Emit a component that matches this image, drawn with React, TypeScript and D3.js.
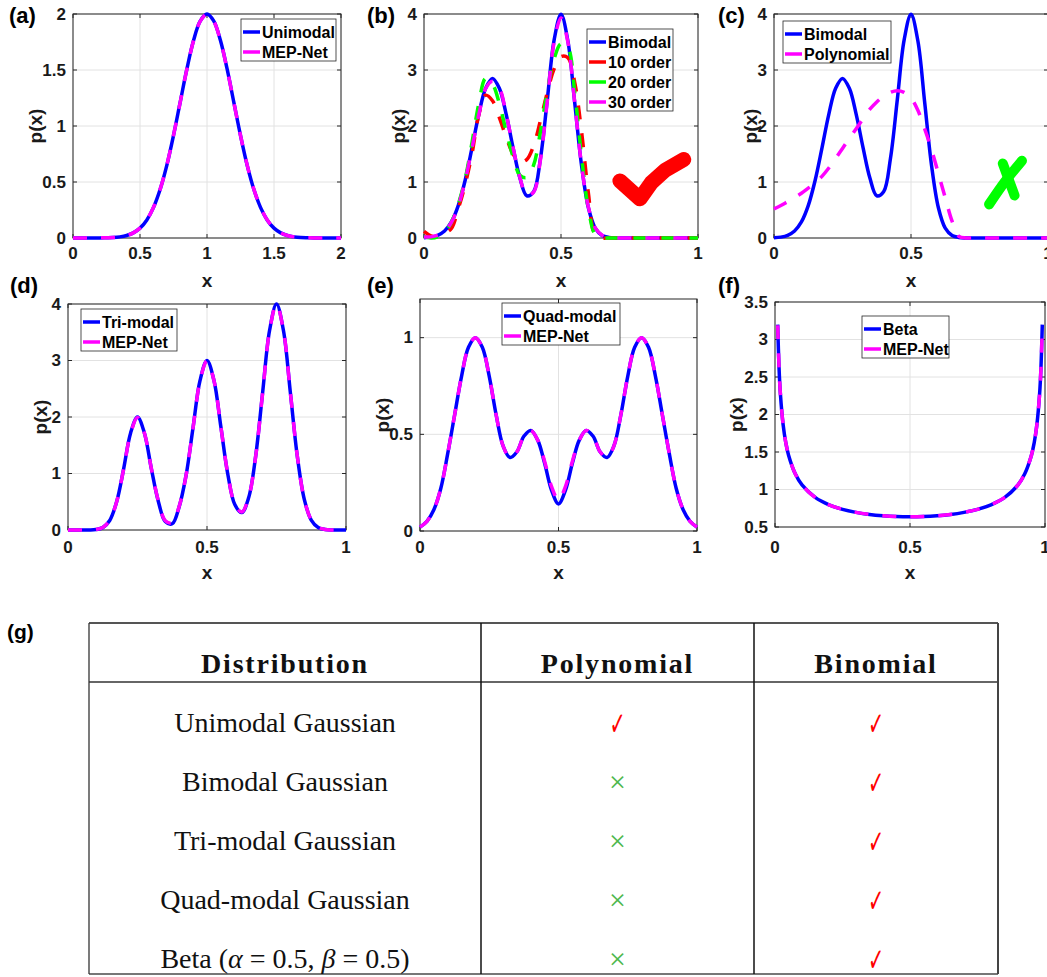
import React from 'react';
import * as d3 from 'd3';

// ---------------- DATA ----------------
const X_A = [0,0.05,0.1,0.15,0.2,0.25,0.3,0.35,0.4,0.45,0.5,0.55,0.6,0.65,0.7,0.75,0.8,0.85,0.9,0.95,1,1.05,1.1,1.15,1.2,1.25,1.3,1.35,1.4,1.45,1.5,1.55,1.6,1.65,1.7,1.75,1.8,1.85,1.9,1.95,2];
const UNIMODAL_A = [0,0,0,0,0.001,0.002,0.004,0.010,0.022,0.046,0.088,0.159,0.271,0.433,0.649,0.916,1.213,1.510,1.765,1.938,2.000,1.938,1.765,1.510,1.213,0.916,0.649,0.433,0.271,0.159,0.088,0.046,0.022,0.010,0.004,0.002,0.001,0,0,0,0];
const MEP_A = [0,0,0,0,0.001,0.002,0.004,0.010,0.022,0.046,0.088,0.160,0.272,0.434,0.650,0.916,1.212,1.508,1.763,1.936,1.998,1.936,1.763,1.508,1.212,0.916,0.650,0.434,0.272,0.160,0.088,0.046,0.022,0.010,0.004,0.002,0.001,0,0,0,0];

const X_B = [0,0.025,0.05,0.075,0.1,0.125,0.15,0.175,0.2,0.225,0.25,0.275,0.3,0.325,0.35,0.375,0.4,0.425,0.45,0.475,0.5,0.525,0.55,0.575,0.6,0.625,0.65,0.675,0.7,0.725,0.75,0.775,0.8,0.825,0.85,0.875,0.9,0.925,0.95,0.975,1];
const BIMODAL = [0.005,0.016,0.048,0.125,0.287,0.579,1.027,1.605,2.208,2.674,2.850,2.674,2.209,1.614,1.071,0.754,0.827,1.421,2.468,3.537,3.995,3.522,2.420,1.296,0.540,0.175,0.044,0.009,0.001,0,0,0,0,0,0,0,0,0,0,0,0];
const ORDER10 = [0.12,0.04,0.02,0.08,0.17,0.52,0.95,1.50,2.20,2.55,2.45,2.15,1.80,1.50,1.36,1.40,1.65,2.10,2.60,3.02,3.24,3.22,2.78,1.90,0.80,0.05,0,0,0,0,0,0,0,0,0,0,0,0,0,0,0];
const ORDER20 = [0.03,0,0.02,0.10,0.28,0.60,1.05,1.70,2.40,2.85,2.75,2.40,1.90,1.45,1.12,1.08,1.30,1.90,2.62,3.20,3.47,3.40,2.60,1.45,0.52,0.06,0,0,0,0,0,0,0,0,0,0,0,0,0,0,0];
const ORDER30 = [0.02,0.02,0.05,0.12,0.28,0.57,1.02,1.60,2.20,2.67,2.80,2.68,2.21,1.62,1.08,0.76,0.82,1.40,2.45,3.50,3.93,3.50,2.42,1.30,0.55,0.18,0.05,0.01,0,0,0,0,0,0,0,0,0,0,0,0,0];
const POLYNOMIAL_C = [0.52,0.58,0.65,0.72,0.80,0.89,0.98,1.10,1.25,1.42,1.60,1.78,1.95,2.13,2.30,2.43,2.53,2.60,2.63,2.60,2.50,2.28,1.95,1.58,1.15,0.72,0.30,0.03,0,0,0,0,0,0,0,0,0,0,0,0,0];

const TRIMODAL = [0,0,0,0.001,0.008,0.042,0.169,0.499,1.079,1.714,2.000,1.714,1.080,0.506,0.150,0.110,0.414,0.975,1.820,2.648,3.000,2.648,1.821,0.983,0.450,0.308,0.574,1.305,2.427,3.530,4.000,3.530,2.426,1.299,0.541,0.176,0.044,0.009,0.001,0,0];
const MEP_D = [0,0,0,0.001,0.010,0.045,0.172,0.500,1.075,1.705,1.990,1.712,1.085,0.515,0.165,0.125,0.420,0.975,1.815,2.640,2.995,2.645,1.822,0.990,0.460,0.318,0.580,1.300,2.420,3.520,3.995,3.528,2.428,1.302,0.545,0.178,0.046,0.010,0.001,0,0];

const QUADMODAL = [0.02,0.05,0.11,0.22,0.40,0.60,0.80,0.95,1.00,0.95,0.80,0.60,0.44,0.38,0.41,0.49,0.52,0.47,0.35,0.21,0.14,0.21,0.35,0.47,0.52,0.49,0.41,0.38,0.44,0.60,0.80,0.95,1.00,0.95,0.80,0.60,0.40,0.22,0.11,0.05,0.02];
const MEP_E = [0.02,0.05,0.11,0.22,0.40,0.60,0.80,0.95,1.00,0.95,0.80,0.60,0.44,0.38,0.41,0.49,0.52,0.47,0.36,0.23,0.16,0.23,0.36,0.47,0.52,0.49,0.41,0.38,0.44,0.60,0.80,0.95,1.00,0.95,0.80,0.60,0.40,0.22,0.11,0.05,0.02];

const X_F = [0.01,0.015,0.02,0.03,0.04,0.05,0.075,0.1,0.15,0.2,0.25,0.3,0.35,0.4,0.45,0.5,0.55,0.6,0.65,0.7,0.75,0.8,0.85,0.9,0.925,0.95,0.96,0.97,0.98,0.985,0.99];
const BETA_F = [3.199,2.619,2.274,1.866,1.624,1.461,1.209,1.061,0.891,0.796,0.735,0.695,0.667,0.650,0.640,0.637,0.640,0.650,0.667,0.695,0.735,0.796,0.891,1.061,1.209,1.461,1.624,1.866,2.274,2.619,3.199];
const MEP_F = [3.190,2.615,2.272,1.866,1.624,1.461,1.209,1.061,0.891,0.796,0.735,0.695,0.667,0.650,0.640,0.637,0.640,0.650,0.667,0.695,0.735,0.796,0.891,1.061,1.209,1.461,1.624,1.866,2.272,2.615,3.190];

// annotation marks (data space)
const CHECK_X = [0.715, 0.788, 0.83, 0.88, 0.948];
const CHECK_Y = [1.02, 0.70, 0.99, 1.21, 1.40];
const CROSS1_X = [0.785, 0.842, 0.905];
const CROSS1_Y = [0.60, 1.00, 1.38];
const CROSS2_X = [0.835, 0.878];
const CROSS2_Y = [1.33, 0.76];

// ticks
const TICKS_0_2 = [0, 0.5, 1, 1.5, 2];
const TICKS_0_1 = [0, 0.5, 1];
const TICKS_0_4 = [0, 1, 2, 3, 4];
const TICKS_E_Y = [0, 0.5, 1];
const TICKS_F_Y = [0.5, 1, 1.5, 2, 2.5, 3, 3.5];

// table
const TABLE_HEADERS = ['Distribution', 'Polynomial', 'Binomial'];
const DISTRIBUTIONS = ['Unimodal Gaussian', 'Bimodal Gaussian', 'Tri-modal Gaussian', 'Quad-modal Gaussian', 'BETA'];
const POLY_OK = [true, false, false, false, false];
const BINOM_OK = [true, true, true, true, true];

// ---------------- STYLE ----------------
const SANS = "'Liberation Sans', Arial, Helvetica, sans-serif";
const SERIF = "'Liberation Serif', 'Times New Roman', serif";
const BLUE = '#0000ff';
const MAGENTA = '#ff00ff';
const RED = '#ff0000';
const GREEN = '#00ff00';
const LW = 3.5;
const DASH = '14,14';

type Series = { x: number[]; y: number[]; color: string; dashed: boolean; name: string };

const PANELS = [
  {
    id: 'a', label: '(a)', labelX: 9, labelY: 15,
    x0: 73, x1: 341, y0: 238, y1: 14, xDom: [0, 2], yDom: [0, 2],
    xTicks: TICKS_0_2, yTicks: TICKS_0_2, tickY: 253, xlabY: 280, ylabX: 35,
    series: [
      { x: X_A, y: UNIMODAL_A, color: BLUE, dashed: false, name: 'Unimodal' },
      { x: X_A, y: MEP_A, color: MAGENTA, dashed: true, name: 'MEP-Net' },
    ],
    legend: { x: 241, y: 19, w: 95 },
  },
  {
    id: 'b', label: '(b)', labelX: 367, labelY: 15,
    x0: 424, x1: 698, y0: 238, y1: 14, xDom: [0, 1], yDom: [0, 4],
    xTicks: TICKS_0_1, yTicks: TICKS_0_4, tickY: 253, xlabY: 280, ylabX: 398,
    series: [
      { x: X_B, y: BIMODAL, color: BLUE, dashed: false, name: 'Bimodal' },
      { x: X_B, y: ORDER10, color: RED, dashed: true, name: '10 order' },
      { x: X_B, y: ORDER20, color: GREEN, dashed: true, name: '20 order' },
      { x: X_B, y: ORDER30, color: MAGENTA, dashed: true, name: '30 order' },
    ],
    legend: { x: 587, y: 29, w: 86 },
    check: true,
  },
  {
    id: 'c', label: '(c)', labelX: 718, labelY: 15,
    x0: 774, x1: 1048, y0: 238, y1: 14, xDom: [0, 1], yDom: [0, 4],
    xTicks: TICKS_0_1, yTicks: TICKS_0_4, tickY: 253, xlabY: 280, ylabX: 750,
    series: [
      { x: X_B, y: BIMODAL, color: BLUE, dashed: false, name: 'Bimodal' },
      { x: X_B, y: POLYNOMIAL_C, color: MAGENTA, dashed: true, name: 'Polynomial' },
    ],
    legend: { x: 783, y: 21, w: 108 },
    cross: true,
  },
  {
    id: 'd', label: '(d)', labelX: 10, labelY: 285,
    x0: 68, x1: 346, y0: 530, y1: 304, xDom: [0, 1], yDom: [0, 4],
    xTicks: TICKS_0_1, yTicks: TICKS_0_4, tickY: 547, xlabY: 572, ylabX: 40,
    series: [
      { x: X_B, y: TRIMODAL, color: BLUE, dashed: false, name: 'Tri-modal' },
      { x: X_B, y: MEP_D, color: MAGENTA, dashed: true, name: 'MEP-Net' },
    ],
    legend: { x: 81, y: 309, w: 96 },
  },
  {
    id: 'e', label: '(e)', labelX: 367, labelY: 285,
    x0: 420, x1: 697, y0: 531, y1: 299, xDom: [0, 1], yDom: [0, 1.2],
    xTicks: TICKS_0_1, yTicks: TICKS_E_Y, tickY: 547, xlabY: 572, ylabX: 382,
    series: [
      { x: X_B, y: QUADMODAL, color: BLUE, dashed: false, name: 'Quad-modal' },
      { x: X_B, y: MEP_E, color: MAGENTA, dashed: true, name: 'MEP-Net' },
    ],
    legend: { x: 502, y: 303, w: 118 },
  },
  {
    id: 'f', label: '(f)', labelX: 718, labelY: 285,
    x0: 775, x1: 1045, y0: 527, y1: 302, xDom: [0, 1], yDom: [0.5, 3.5],
    xTicks: TICKS_0_1, yTicks: TICKS_F_Y, tickY: 547, xlabY: 572, ylabX: 736,
    series: [
      { x: X_F, y: BETA_F, color: BLUE, dashed: false, name: 'Beta' },
      { x: X_F, y: MEP_F, color: MAGENTA, dashed: true, name: 'MEP-Net' },
    ],
    legend: { x: 862, y: 316, w: 87 },
  },
];

function Panel({ cfg }: { cfg: any }) {
  const xs = d3.scaleLinear().domain(cfg.xDom).range([cfg.x0, cfg.x1]);
  const ys = d3.scaleLinear().domain(cfg.yDom).range([cfg.y0, cfg.y1]);
  const mk = (X: number[], Y: number[], curve: any = d3.curveCatmullRom.alpha(0.5)) =>
    d3.line<number>().x((_, i) => xs(X[i])).y((d) => ys(d)).curve(curve)(Y) || '';
  const fmt = (v: number) => String(v);
  const tl = 4;
  const midY = (cfg.y0 + cfg.y1) / 2;
  const midX = (cfg.x0 + cfg.x1) / 2;
  const series: Series[] = cfg.series;
  const lg = cfg.legend;
  return (
    <g>
      {/* grid */}
      {cfg.xTicks.map((t: number) => (
        <line key={'gx' + t} x1={xs(t)} x2={xs(t)} y1={cfg.y0} y2={cfg.y1} stroke="#e2e2e2" strokeWidth={1} />
      ))}
      {cfg.yTicks.map((t: number) => (
        <line key={'gy' + t} x1={cfg.x0} x2={cfg.x1} y1={ys(t)} y2={ys(t)} stroke="#e2e2e2" strokeWidth={1} />
      ))}
      {/* box */}
      <rect x={cfg.x0} y={cfg.y1} width={cfg.x1 - cfg.x0} height={cfg.y0 - cfg.y1} fill="none" stroke="#262626" strokeWidth={1} />
      {cfg.xTicks.map((t: number) => (
        <g key={'tx' + t}>
          <line x1={xs(t)} x2={xs(t)} y1={cfg.y0} y2={cfg.y0 - tl} stroke="#262626" />
          <line x1={xs(t)} x2={xs(t)} y1={cfg.y1} y2={cfg.y1 + tl} stroke="#262626" />
          <text x={xs(t)} y={cfg.tickY} textAnchor="middle" dominantBaseline="central" fontFamily={SANS} fontWeight="bold" fontSize={17} fill="#1a1a1a">{fmt(t)}</text>
        </g>
      ))}
      {cfg.yTicks.map((t: number) => (
        <g key={'ty' + t}>
          <line x1={cfg.x0} x2={cfg.x0 + tl} y1={ys(t)} y2={ys(t)} stroke="#262626" />
          <line x1={cfg.x1} x2={cfg.x1 - tl} y1={ys(t)} y2={ys(t)} stroke="#262626" />
          <text x={cfg.x0 - 7} y={ys(t)} textAnchor="end" dominantBaseline="central" fontFamily={SANS} fontWeight="bold" fontSize={17} fill="#1a1a1a">{fmt(t)}</text>
        </g>
      ))}
      {/* series */}
      {series.map((s, i) => (
        <path key={'s' + i} d={mk(s.x, s.y)} fill="none" stroke={s.color} strokeWidth={LW}
          strokeDasharray={s.dashed ? DASH : undefined} strokeLinejoin="round" />
      ))}
      {/* annotations */}
      {cfg.check && (
        <path d={mk(CHECK_X, CHECK_Y, d3.curveLinear)} fill="none" stroke={RED} strokeWidth={15}
          strokeLinecap="round" strokeLinejoin="round" />
      )}
      {cfg.cross && (
        <g>
          <path d={mk(CROSS1_X, CROSS1_Y)} fill="none" stroke={GREEN} strokeWidth={10} strokeLinecap="round" />
          <path d={mk(CROSS2_X, CROSS2_Y, d3.curveLinear)} fill="none" stroke={GREEN} strokeWidth={10} strokeLinecap="round" />
        </g>
      )}
      {/* legend */}
      <rect x={lg.x} y={lg.y} width={lg.w} height={series.length * 20 + 2} fill="#fff" stroke="#262626" strokeWidth={0.8} />
      {series.map((s, i) => {
        const yy = lg.y + 13 + i * 20;
        return (
          <g key={'lg' + i}>
            <line x1={lg.x + 2} x2={lg.x + 19} y1={yy} y2={yy} stroke={s.color} strokeWidth={LW} />
            <text x={lg.x + 21} y={yy} dominantBaseline="central" fontFamily={SANS} fontWeight="bold" fontSize={16} fill="#000">{s.name}</text>
          </g>
        );
      })}
      {/* labels */}
      <text x={midX} y={cfg.xlabY} textAnchor="middle" dominantBaseline="central" fontFamily={SANS} fontWeight="bold" fontSize={19} fill="#1a1a1a">x</text>
      <text transform={`translate(${cfg.ylabX},${midY}) rotate(-90)`} textAnchor="middle" dominantBaseline="central" fontFamily={SANS} fontWeight="bold" fontSize={19} fill="#1a1a1a">p(x)</text>
      <text x={cfg.labelX} y={cfg.labelY} dominantBaseline="central" fontFamily={SANS} fontWeight="bold" fontSize={22} fill="#000">{cfg.label}</text>
    </g>
  );
}

const TABLE_COLS = [89, 481, 754, 998];
const TABLE_TOP = 623;
const TABLE_HEAD_BOTTOM = 682;
const TABLE_BOTTOM = 974;

function Table() {
  const rowY = d3.scaleLinear().domain([0, 1]).range([663, 722]);
  const colC = (i: number) => (TABLE_COLS[i] + TABLE_COLS[i + 1]) / 2;
  const check = (cx: number, cy: number, k: string) => (
    <text key={k} transform={`translate(${cx},${cy + 1}) scale(0.8,1.35)`} textAnchor="middle" dominantBaseline="central"
      fontFamily="'DejaVu Sans', sans-serif" fontSize={24} fill={RED}>✓</text>
  );
  const cross = (cx: number, cy: number, k: string) => (
    <text key={k} x={cx} y={cy} textAnchor="middle" dominantBaseline="central"
      fontFamily={SERIF} fontSize={30} fill="#4cb84c">×</text>
  );
  return (
    <g>
      <text x={7} y={631} dominantBaseline="central" fontFamily={SANS} fontWeight="bold" fontSize={21} fill="#000">(g)</text>
      <line x1={TABLE_COLS[0]} x2={TABLE_COLS[3]} y1={TABLE_TOP} y2={TABLE_TOP} stroke="#555" strokeWidth={2} />
      <line x1={TABLE_COLS[0]} x2={TABLE_COLS[3]} y1={TABLE_HEAD_BOTTOM} y2={TABLE_HEAD_BOTTOM} stroke="#333" strokeWidth={1.3} />
      <line x1={TABLE_COLS[0]} x2={TABLE_COLS[3]} y1={TABLE_BOTTOM} y2={TABLE_BOTTOM} stroke="#777" strokeWidth={2} />
      <line x1={TABLE_COLS[0]} x2={TABLE_COLS[0]} y1={TABLE_TOP} y2={TABLE_BOTTOM} stroke="#333" strokeWidth={1.3} />
      <line x1={TABLE_COLS[1]} x2={TABLE_COLS[1]} y1={TABLE_TOP} y2={TABLE_BOTTOM} stroke="#111" strokeWidth={1.5} />
      <line x1={TABLE_COLS[2]} x2={TABLE_COLS[2]} y1={TABLE_TOP} y2={TABLE_BOTTOM} stroke="#111" strokeWidth={1.5} />
      <line x1={TABLE_COLS[3]} x2={TABLE_COLS[3]} y1={TABLE_TOP} y2={TABLE_BOTTOM} stroke="#444" strokeWidth={2} />
      {TABLE_HEADERS.map((h, i) => (
        <text key={h} x={colC(i)} y={rowY(0)} textAnchor="middle" dominantBaseline="central" fontFamily={SERIF}
          fontWeight="bold" fontSize={28} letterSpacing={1.8} fill="#111">{h}</text>
      ))}
      {DISTRIBUTIONS.map((d, i) => (
        <text key={d} x={colC(0)} y={rowY(i + 1)} textAnchor="middle" dominantBaseline="central" fontFamily={SERIF}
          fontSize={28} fill="#111">
          {d === 'BETA' ? (
            <>
              <tspan>Beta (</tspan>
              <tspan fontStyle="italic">α</tspan>
              <tspan> = 0.5, </tspan>
              <tspan fontStyle="italic">β</tspan>
              <tspan> = 0.5)</tspan>
            </>
          ) : d}
        </text>
      ))}
      {POLY_OK.map((ok, i) => (ok ? check(colC(1), rowY(i + 1), 'p' + i) : cross(colC(1), rowY(i + 1), 'p' + i)))}
      {BINOM_OK.map((ok, i) => (ok ? check(colC(2), rowY(i + 1), 'b' + i) : cross(colC(2), rowY(i + 1), 'b' + i)))}
    </g>
  );
}

export default function App() {
  return (
    <svg width={1047} height={977} style={{ position: 'absolute', left: 0, top: 0 }} xmlns="http://www.w3.org/2000/svg">
      <rect x={0} y={0} width={1047} height={977} fill="#fff" />
      {PANELS.map((p) => <Panel key={p.id} cfg={p} />)}
      <Table />
    </svg>
  );
}
